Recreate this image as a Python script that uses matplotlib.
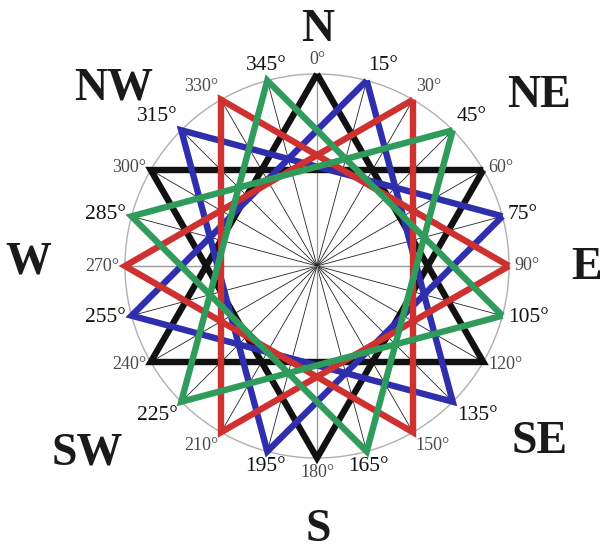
import matplotlib
matplotlib.use("Agg")
import matplotlib.pyplot as plt
import numpy as np

# star vertices (degrees clockwise from north), one hexagram per colour
star_names = ["black", "blue", "red", "green"]
star_start = [0, 15, 30, 45]
star_colors = ["#111111", "#2f2fae", "#cf3030", "#2f9c5c"]

# 24 directions, every 15 degrees
degrees = list(range(0, 360, 15))

compass_labels = ["N", "NE", "E", "SE", "S", "SW", "W", "NW"]
# label positions in units of the circle radius
compass_x = [0.005, 1.156, 1.406, 1.161, 0.005, -1.198, -1.505, -1.057]
compass_y = [1.229, 0.885, -0.010, -0.917, -1.375, -0.974, 0.016, 0.922]

plt.rcParams["font.family"] = ["Liberation Serif", "DejaVu Serif"]

fig = plt.figure(figsize=(6.02, 5.5), dpi=100)
ax = fig.add_axes([0, 0, 1, 1])
ax.set_xlim(-317 / 192, 285 / 192)
ax.set_ylim(-284 / 192, 266 / 192)
ax.axis("off")


def pos(deg, r=1.0):
    t = np.radians(deg)
    return r * np.sin(t), r * np.cos(t)


# outer circle
t = np.linspace(0, 2 * np.pi, 400)
ax.plot(np.sin(t), np.cos(t), color="#b0b0b0", lw=1.0, zorder=1)

# spokes
for d in degrees:
    x, y = pos(d)
    if d % 90 == 0:
        ax.plot([0, x], [0, y], color="#9a9a9a", lw=1.0, zorder=1)
    else:
        ax.plot([0, x], [0, y], color="#222222", lw=0.6, zorder=1)

# hexagrams: two triangles each
for i, (s, c) in enumerate(zip(star_start, star_colors)):
    for k in (0, 60):
        ang = [s + k, s + k + 120, s + k + 240, s + k]
        xs, ys = pos(np.array(ang))
        ax.plot(xs, ys, color=c, lw=4.6, solid_joinstyle="miter",
                solid_capstyle="butt", zorder=2 + i)

# degree labels
for d in degrees:
    x, y = pos(d)
    sn, cs = np.sin(np.radians(d)), np.cos(np.radians(d))
    ha = "center" if abs(sn) < 0.3 else ("left" if sn > 0 else "right")
    va = "center" if abs(cs) < 0.55 else ("bottom" if cs > 0 else "top")
    if d == 15:
        ha = "left"
    if d % 30 == 0:
        size, col = 13, "#4a4a4a"
    else:
        size, col = 15.5, "#111111"
    ax.annotate(f"{d}°", (x, y), xytext=(4 * sn, 4 * cs),
                textcoords="offset points", ha=ha, va=va,
                fontsize=size, color=col, zorder=10)

# compass points
for lab, x, y in zip(compass_labels, compass_x, compass_y):
    ax.text(x, y, lab, ha="center", va="center", fontsize=33,
            fontweight="bold", color="#1a1a1a")

fig.savefig("out.png", dpi=100)
